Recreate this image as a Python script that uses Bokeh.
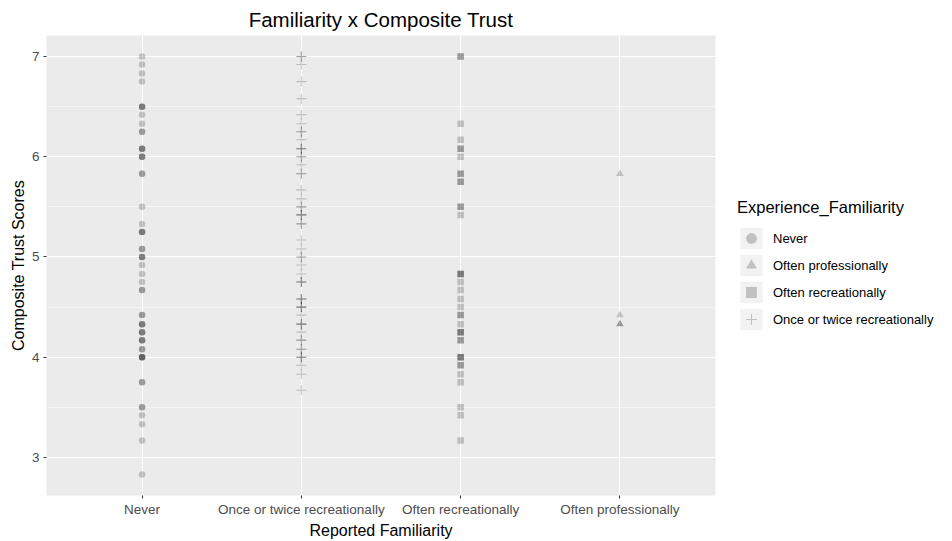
from bokeh.plotting import figure
from bokeh.models import (ColumnDataSource, FactorRange, Range1d, Legend, LegendItem,
                          SingleIntervalTicker)
from bokeh.embed import file_html
from bokeh.resources import INLINE

# ---- data (repeated values = overplotted points) ----
categories = ["Never", "Once or twice recreationally", "Often recreationally", "Often professionally"]
legend_labels = ["Never", "Often professionally", "Often recreationally", "Once or twice recreationally"]

never_scores = [7.0, 6.92, 6.83, 6.75,
                6.5, 6.5, 6.5, 6.42, 6.33, 6.25, 6.25,
                6.08, 6.08, 6.08, 6.0, 6.0, 6.0, 5.83, 5.83,
                5.5, 5.33, 5.25, 5.25, 5.25, 5.08, 5.08, 5.0, 5.0, 5.0,
                4.92, 4.83, 4.75, 4.67, 4.67,
                4.42, 4.42, 4.33, 4.33, 4.33, 4.25, 4.25, 4.25, 4.17, 4.17, 4.17,
                4.08, 4.08, 4.0, 4.0, 4.0, 4.0,
                3.75, 3.75, 3.5, 3.5, 3.42, 3.33, 3.17, 2.83]

once_scores = [7.0, 7.0, 6.92, 6.75, 6.58, 6.42, 6.33, 6.25, 6.25, 6.17,
               6.08, 6.08, 6.08, 6.0, 6.0, 5.92, 5.83, 5.83,
               5.67, 5.58, 5.5, 5.5, 5.42, 5.42, 5.42, 5.33, 5.33, 5.17, 5.08,
               5.0, 5.0, 4.92, 4.83, 4.75, 4.75, 4.75,
               4.58, 4.58, 4.58, 4.5, 4.5, 4.5, 4.42, 4.33, 4.33, 4.33, 4.25,
               4.17, 4.17, 4.08, 4.08, 4.0, 4.0, 4.0, 3.92, 3.83, 3.67]

often_rec_scores = [7.0, 7.0, 6.33, 6.17, 6.08, 6.08, 6.0, 5.83, 5.83, 5.75, 5.75,
                    5.5, 5.5, 5.42, 4.83, 4.83, 4.83, 4.75, 4.67, 4.58, 4.5,
                    4.42, 4.42, 4.33, 4.25, 4.25, 4.25, 4.17, 4.17,
                    4.0, 4.0, 4.0, 3.92, 3.92, 3.83, 3.75, 3.5, 3.42, 3.17]

often_prof_scores = [5.83, 4.42, 4.33, 4.33]

FONT = "Liberation Sans"
TICK_COL = "#4D4D4D"

p = figure(x_range=FactorRange(*categories, range_padding=0.05, range_padding_units="percent"),
           y_range=Range1d(2.62, 7.21),
           frame_width=669, frame_height=460,
           min_border_left=46, min_border_top=34, min_border_bottom=34, min_border_right=0,
           output_backend="svg", toolbar_location=None,
           background_fill_color="#EBEBEB", border_fill_color="white",
           outline_line_color=None)

# title
p.title.text = "Familiarity x Composite Trust"
p.title.align = "center"
p.title.text_font = FONT
p.title.text_font_size = "20.5px"
p.title.text_font_style = "normal"
p.title.text_color = "black"

# axes
for ax in (p.xaxis[0], p.yaxis[0]):
    ax.axis_line_color = None
    ax.major_tick_line_color = "#333333"
    ax.major_tick_in = 0
    ax.major_tick_out = 3
    ax.minor_tick_line_color = None
    ax.major_label_text_font = FONT
    ax.major_label_text_font_size = "13.5px"
    ax.major_label_text_color = TICK_COL
    ax.axis_label_text_font = FONT
    ax.axis_label_text_font_size = "16px"
    ax.axis_label_text_font_style = "normal"
    ax.axis_label_text_color = "black"
    ax.major_label_standoff = 3
    ax.axis_label_standoff = 2

p.xaxis.axis_label = "Reported Familiarity"
p.yaxis.axis_label = "Composite Trust Scores"
p.yaxis.ticker = SingleIntervalTicker(interval=1, num_minor_ticks=2)

p.xgrid.grid_line_color = "white"
p.xgrid.grid_line_width = 1.1
p.ygrid.grid_line_color = "white"
p.ygrid.grid_line_width = 1.1
p.ygrid.minor_grid_line_color = "white"
p.ygrid.minor_grid_line_width = 0.55

ALPHA = 0.2

def src(cat, vals):
    return ColumnDataSource(dict(x=[cat] * len(vals), y=vals))

r_never = p.scatter("x", "y", source=src("Never", never_scores), marker="circle", size=6.5,
                    fill_color="black", fill_alpha=ALPHA, line_color=None)
r_prof = p.scatter("x", "y", source=src("Often professionally", often_prof_scores), marker="triangle",
                   size=7.5, fill_color="black", fill_alpha=ALPHA, line_color=None)
r_rec = p.scatter("x", "y", source=src("Often recreationally", often_rec_scores), marker="square",
                  size=6.5, fill_color="black", fill_alpha=ALPHA, line_color=None)
r_once = p.scatter("x", "y", source=src("Once or twice recreationally", once_scores), marker="cross",
                   size=10, line_color="black", line_alpha=ALPHA, line_width=1.1)

# legend key backgrounds: zero-size rects (invisible in the panel, drawn as key boxes in the legend)
key_bg = p.rect("x", "y", source=src("Never", never_scores), width=0, height=0,
                fill_color="#F2F2F2", line_color=None)

items = [LegendItem(label=lab, renderers=[key_bg, r]) for lab, r in
         zip(legend_labels, [r_never, r_prof, r_rec, r_once])]
legend = Legend(items=items, title="Experience_Familiarity",
                title_text_font=FONT, title_text_font_size="16.5px", title_text_font_style="normal",
                title_text_color="black", title_standoff=8,
                label_text_font=FONT, label_text_font_size="13px", label_text_color="black",
                glyph_width=28, glyph_height=27, spacing=0, label_standoff=8,
                padding=2, margin=22, border_line_color=None, background_fill_alpha=0,
                location="center_left")
p.add_layout(legend, "right")

open("out.html", "w").write(file_html(p, INLINE))
